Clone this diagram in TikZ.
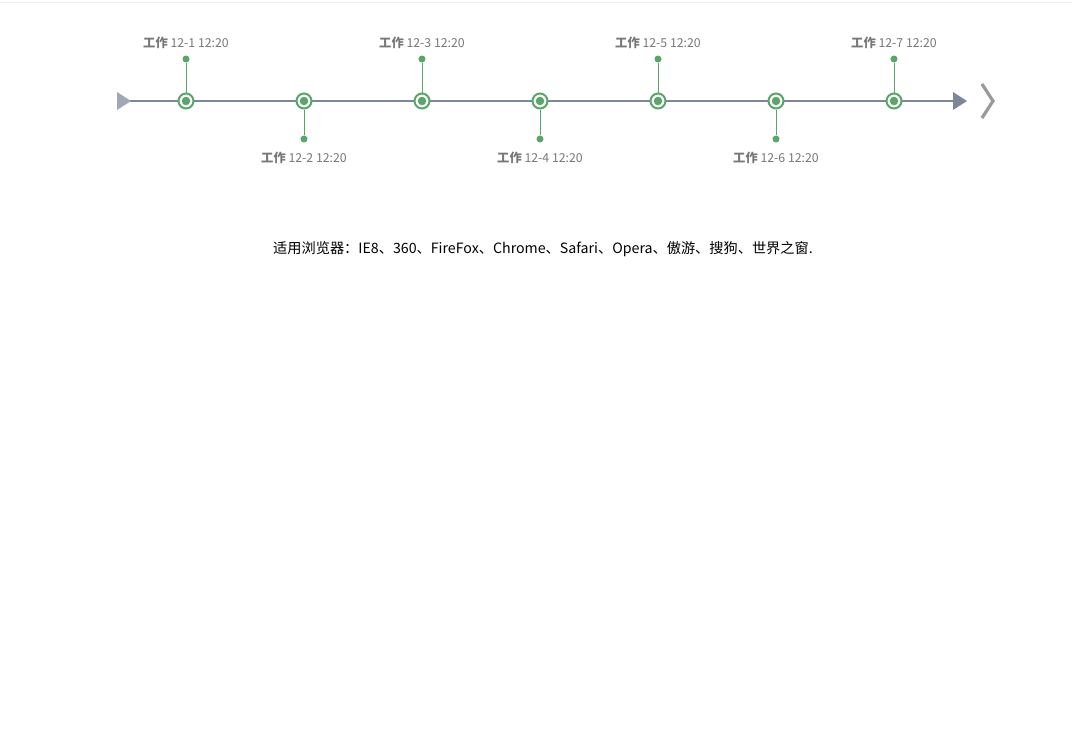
\documentclass[tikz,border=0pt]{standalone}
\usepackage{fontspec}
\setmainfont{Noto Sans CJK SC}
\definecolor{axis}{HTML}{7D8799}
\definecolor{axisl}{HTML}{A0A7B6}
\definecolor{grn}{HTML}{5AA66A}
\definecolor{lbl}{HTML}{777777}
\tikzset{
  ev/.style={circle,draw=grn,line width=2pt,fill=white,minimum size=15pt,inner sep=0pt},
  evdot/.style={circle,fill=grn,minimum size=8.5pt,inner sep=0pt},
  tip/.style={circle,fill=grn,minimum size=7pt,inner sep=0pt},
  stem/.style={draw=grn,line width=0.8pt},
  lab/.style={text=lbl,font=\fontsize{12.3}{14}\selectfont,inner sep=0pt}
}
\begin{document}
\begin{tikzpicture}[x=1pt,y=-1pt]
\useasboundingbox (0,0) rectangle (1072,732);
\draw[draw=black!7,line width=1pt] (0,2) -- (1072,2);
\coordinate (s) at (126,101);
\coordinate (e) at (956,101);
\draw[axis,line width=2pt] (s) -- (e);
\fill[axisl] (117,92) -- (131,101) -- (117,110) -- cycle;
\fill[axis] (953,92) -- (967,101) -- (953,110) -- cycle;
\draw[black!40,line width=3.2pt] (982,84) -- (993,101) -- (982,118);
\foreach \i/\x/\up in {1/186/1,2/304/0,3/422/1,4/540/0,5/658/1,6/776/0,7/894/1}{
  \ifnum\up=1
    \node[tip] (t\i) at (\x,59) {};
    \node[lab] (l\i) at (\x,43) {\textbf{工作} 12-\i\ 12:20};
  \else
    \node[tip] (t\i) at (\x,139) {};
    \node[lab] (l\i) at (\x,158) {\textbf{工作} 12-\i\ 12:20};
  \fi
  \node[ev] (n\i) at (\x,101) {};
  \draw[stem] (n\i) -- (t\i);
  \node[evdot] at (n\i) {};
}
\node[font=\fontsize{14.2}{16}\selectfont,inner sep=0pt] (note) at (543,249) {适用浏览器：IE8、360、FireFox、Chrome、Safari、Opera、傲游、搜狗、世界之窗.};
\end{tikzpicture}
\end{document}
